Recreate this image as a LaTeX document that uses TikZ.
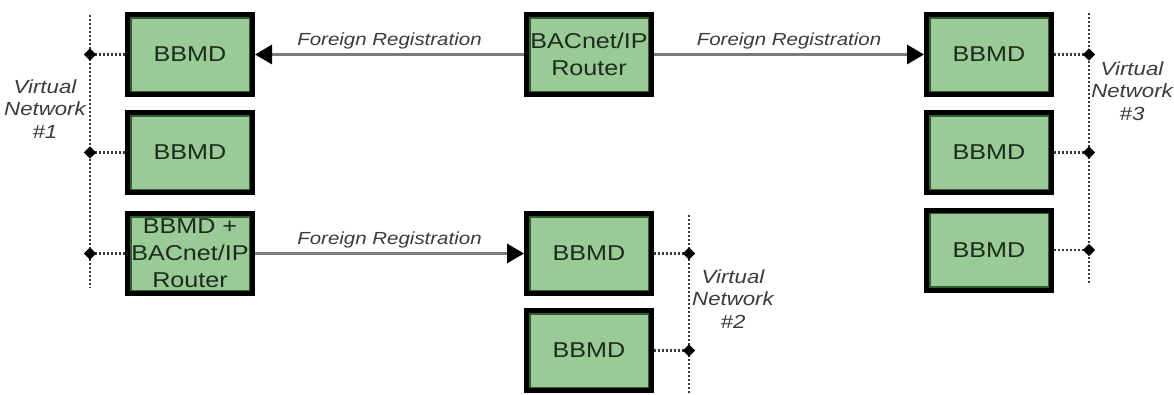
\documentclass[tikz,border=0pt]{standalone}
\usepackage{fontspec}
\setmainfont{Liberation Sans}
\setsansfont{Liberation Sans}[FakeStretch=1.17]
\usetikzlibrary{arrows.meta,positioning,calc,shapes.geometric}
\definecolor{ink}{HTML}{1C2B1C}
\definecolor{leaf}{HTML}{9ACB97}
\definecolor{leafdark}{HTML}{2F5F2F}
\definecolor{wire}{HTML}{7A7A7A}
\definecolor{dotgray}{HTML}{3A3A3A}
\definecolor{labelgray}{HTML}{3A3A3A}
\tikzset{
  every node/.style={font=\sffamily},
  devbox/.style={draw=black, line width=5pt, fill=leaf, minimum width=125pt, minimum height=80pt, inner sep=0pt, align=center, text=ink, font=\sffamily\fontsize{21.5}{27}\selectfont,
    path picture={\draw[leafdark, line width=8pt] (path picture bounding box.south west) rectangle (path picture bounding box.north east);}},
  netline/.style={draw=dotgray, line width=2.2pt, dash pattern=on 2pt off 2pt},
  stub/.style={netline},
  tap/.style={diamond, fill=black, inner sep=0pt, minimum size=13pt},
  netlabel/.style={font=\sffamily\itshape\fontsize{19}{22.5}\selectfont, text=labelgray, align=center},
  reglabel/.style={font=\sffamily\itshape\fontsize{17.5}{20}\selectfont, text=labelgray, inner sep=4pt},
  regarrow/.style={-{Triangle[length=17pt,width=19pt,color=black]}, line width=3pt, draw=wire},
}
\begin{document}
\begin{tikzpicture}[x=1pt, y=-1pt]
\useasboundingbox (0,0) rectangle (1174,394);
\node[devbox] (bbmdA) at (190,54.5) {BBMD};
\node[devbox] (bbmdB) at (190,152.5) {BBMD};
\node[devbox] (gate) at (190,253.5) {BBMD +\\BACnet/IP\\Router};
\node[devbox] (router) at (589,54.5) {BACnet/IP\\Router};
\node[devbox] (bbmdC) at (589,253.5) {BBMD};
\node[devbox] (bbmdD) at (589,350.5) {BBMD};
\node[devbox] (bbmdE) at (989,54.5) {BBMD};
\node[devbox] (bbmdF) at (989,152.5) {BBMD};
\node[devbox] (bbmdG) at (989,250) {BBMD};
\coordinate (vnA) at (90,15);
\coordinate (vnB) at (689,215);
\coordinate (vnC) at (1089,13);
\draw[netline] (vnA) -- ++(0,273);
\draw[netline] (vnB) -- ++(0,179);
\draw[netline] (vnC) -- ++(0,272);
\foreach \b in {bbmdA,bbmdB,gate}
  \draw[stub] (\b.west) -- (\b.west -| vnA) node[tap] (tap\b) {};
\foreach \b in {bbmdC,bbmdD}
  \draw[stub] (\b.east) -- (\b.east -| vnB) node[tap] (tap\b) {};
\foreach \b in {bbmdE,bbmdF,bbmdG}
  \draw[stub] (\b.east) -- (\b.east -| vnC) node[tap] (tap\b) {};
\node[netlabel] (vnAlabel) at (45,109) {Virtual\\Network\\\#1};
\node[netlabel] (vnBlabel) at (733,299) {Virtual\\Network\\\#2};
\node[netlabel] (vnClabel) at (1132,91) {Virtual\\Network\\\#3};
\draw[regarrow] (router) -- node[reglabel, above] (regA) {Foreign Registration} (bbmdA);
\draw[regarrow] (router) -- node[reglabel, above] (regB) {Foreign Registration} (bbmdE);
\draw[regarrow] (gate) -- node[reglabel, above] (regC) {Foreign Registration} (bbmdC);
\end{tikzpicture}
\end{document}
